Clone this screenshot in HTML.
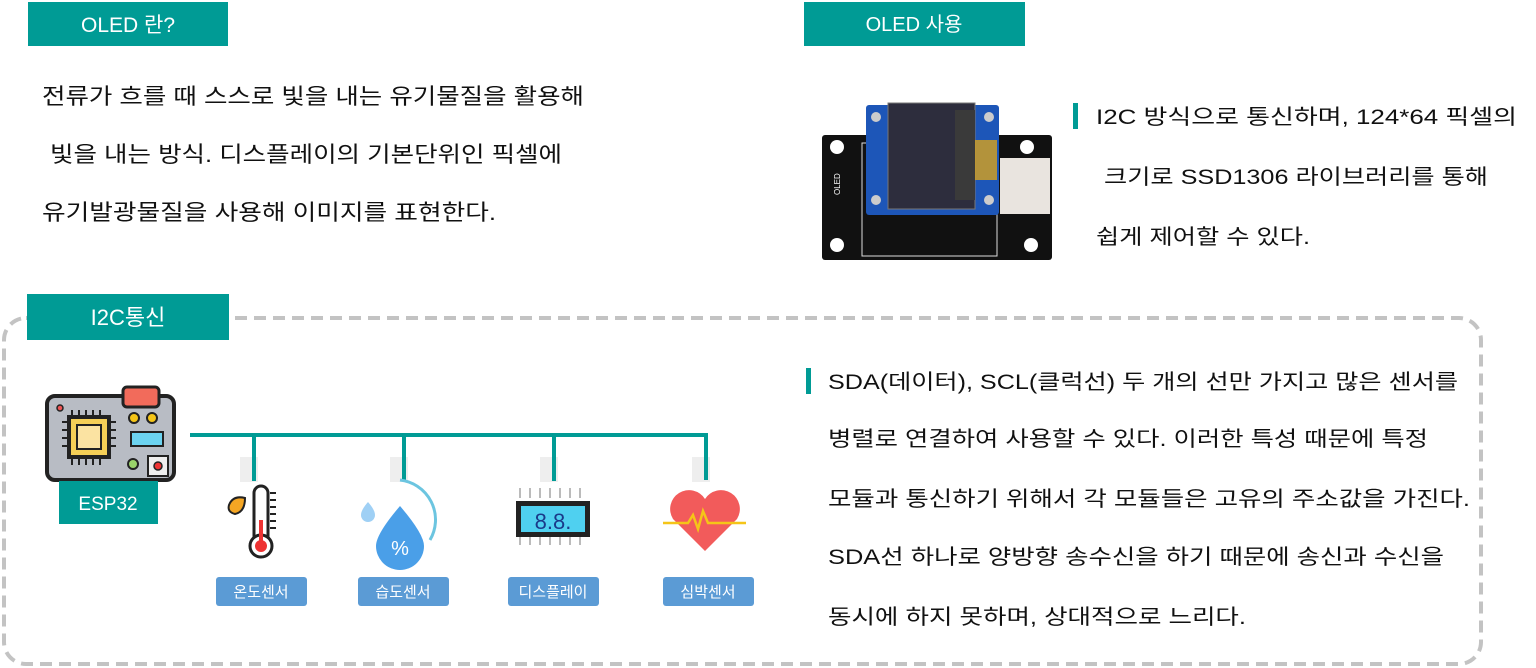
<!DOCTYPE html>
<html><head><meta charset="utf-8"><style>
html,body{margin:0;padding:0;background:#fff;width:1536px;height:668px;overflow:hidden}
svg{display:block}
text{font-family:"Liberation Sans","Noto Sans CJK KR",sans-serif}
</style></head><body>
<svg width="1536" height="668" viewBox="0 0 1536 668" xmlns="http://www.w3.org/2000/svg">
<rect x="4" y="318" width="1477" height="346" rx="22" fill="none" stroke="#c3c3c3" stroke-width="4" stroke-dasharray="12 7"/>
<rect x="28" y="2" width="200" height="44" fill="#009b95"/>
<text x="128" y="32" font-size="21" fill="#fff" text-anchor="middle">OLED 란?</text>
<rect x="804" y="2" width="221" height="44" fill="#009b95"/>
<text x="914" y="31" font-size="20" fill="#fff" text-anchor="middle">OLED 사용</text>
<rect x="27" y="294" width="202" height="46" fill="#009b95"/>
<text x="128" y="325" font-size="22" fill="#fff" text-anchor="middle">I2C통신</text>
<g font-size="22" fill="#111">
<text x="42" y="104" textLength="542" lengthAdjust="spacingAndGlyphs">전류가 흐를 때 스스로 빛을 내는 유기물질을 활용해</text>
<text x="50" y="162" textLength="512" lengthAdjust="spacingAndGlyphs">빛을 내는 방식. 디스플레이의 기본단위인 픽셀에</text>
<text x="42" y="220" textLength="454" lengthAdjust="spacingAndGlyphs">유기발광물질을 사용해 이미지를 표현한다.</text>
</g>
<g>
<rect x="822" y="135" width="230" height="125" rx="3" fill="#111"/>
<circle cx="837" cy="147" r="7" fill="#fff"/><circle cx="1027" cy="147" r="7" fill="#fff"/>
<circle cx="837" cy="245" r="7" fill="#fff"/><circle cx="1031" cy="245" r="7" fill="#fff"/>
<rect x="862" y="143" width="135" height="113" fill="none" stroke="#ddd" stroke-width="1"/>
<rect x="866" y="105" width="133" height="110" rx="3" fill="#1d56b8"/>
<rect x="888" y="103" width="87" height="106" fill="#2d2d3d" stroke="#777"/>
<rect x="955" y="110" width="20" height="90" fill="#3a3a3a"/>
<circle cx="876" cy="117" r="5" fill="#ccc"/><circle cx="989" cy="117" r="5" fill="#ccc"/>
<circle cx="876" cy="200" r="5" fill="#ccc"/><circle cx="989" cy="200" r="5" fill="#ccc"/>
<rect x="975" y="140" width="22" height="40" fill="#d9a21b" opacity="0.8"/>
<rect x="1000" y="158" width="50" height="56" fill="#e9e4df"/>
<text x="840" y="195" font-size="8" fill="#fff" transform="rotate(-90 840 195)">OLED</text>
</g>
<rect x="1073" y="103" width="5" height="26" fill="#009b95"/>
<g font-size="21" fill="#111">
<text x="1096" y="124" textLength="421" lengthAdjust="spacingAndGlyphs">I2C 방식으로 통신하며, 124*64 픽셀의</text>
<text x="1104" y="184" textLength="384" lengthAdjust="spacingAndGlyphs">크기로 SSD1306 라이브러리를 통해</text>
<text x="1096" y="244" textLength="214" lengthAdjust="spacingAndGlyphs">쉽게 제어할 수 있다.</text>
</g>
<rect x="806" y="368" width="5" height="26" fill="#009b95"/>
<g font-size="21" fill="#111">
<text x="828" y="389" textLength="630" lengthAdjust="spacingAndGlyphs">SDA(데이터), SCL(클럭선) 두 개의 선만 가지고 많은 센서를</text>
<text x="828" y="446" textLength="600" lengthAdjust="spacingAndGlyphs">병렬로 연결하여 사용할 수 있다. 이러한 특성 때문에 특정</text>
<text x="828" y="506" textLength="642" lengthAdjust="spacingAndGlyphs">모듈과 통신하기 위해서 각 모듈들은 고유의 주소값을 가진다.</text>
<text x="828" y="564" textLength="616" lengthAdjust="spacingAndGlyphs">SDA선 하나로 양방향 송수신을 하기 때문에 송신과 수신을</text>
<text x="828" y="624" textLength="418" lengthAdjust="spacingAndGlyphs">동시에 하지 못하며, 상대적으로 느리다.</text>
</g>
<g>
<rect x="47" y="396" width="127" height="84" rx="8" fill="#b8bcc4" stroke="#222" stroke-width="4"/>
<rect x="123" y="387" width="36" height="20" rx="4" fill="#f26b5b" stroke="#222" stroke-width="3"/>
<g stroke="#222" stroke-width="2"><path d="M72 410v6M79 410v6M86 410v6M93 410v6M100 410v6M72 459v6M79 459v6M86 459v6M93 459v6M100 459v6M62 422h6M62 430h6M62 438h6M62 446h6M110 422h6M110 430h6M110 438h6M110 446h6"/></g>
<rect x="67" y="415" width="44" height="44" fill="#222"/>
<rect x="71" y="419" width="36" height="36" fill="#f5cf57"/>
<rect x="77" y="425" width="24" height="24" fill="#fbe3a2" stroke="#222" stroke-width="2"/>
<circle cx="134" cy="418" r="5" fill="#f5c518" stroke="#222" stroke-width="2"/>
<circle cx="152" cy="418" r="5" fill="#f5c518" stroke="#222" stroke-width="2"/>
<rect x="131" y="432" width="32" height="14" fill="#6cd3f0" stroke="#222" stroke-width="2"/>
<circle cx="133" cy="464" r="5" fill="#9ad36a" stroke="#222" stroke-width="2"/>
<rect x="148" y="456" width="20" height="20" fill="#eee" stroke="#222" stroke-width="2"/>
<circle cx="158" cy="466" r="4" fill="#e33" stroke="#222" stroke-width="1.5"/>
<circle cx="60" cy="408" r="3" fill="#e55" stroke="#222" stroke-width="1.5"/>
</g>
<rect x="59" y="481" width="99" height="43" fill="#009b95"/>
<text x="108" y="510" font-size="19" fill="#fff" text-anchor="middle">ESP32</text>
<g fill="#eeeeee">
<rect x="240" y="457" width="18" height="25"/><rect x="390" y="457" width="18" height="25"/>
<rect x="540" y="457" width="18" height="25"/><rect x="692" y="457" width="18" height="25"/>
</g>
<g stroke="#009b95" stroke-width="4" fill="none">
<path d="M190 435 H706 V480"/>
<path d="M254 435 V481"/><path d="M404 435 V481"/><path d="M554 435 V481"/>
</g>
<g>
<rect x="254" y="486" width="14" height="60" rx="7" fill="#fff" stroke="#222" stroke-width="3"/>
<circle cx="261" cy="546" r="11" fill="#fff" stroke="#222" stroke-width="3"/>
<circle cx="261" cy="546" r="6" fill="#e33"/>
<rect x="259" y="520" width="4" height="22" fill="#e33"/>
<path d="M229 505 q4 -10 16 -7 q0 14 -10 16 q-8 -2 -6 -9z" fill="#f5a623" stroke="#222" stroke-width="2"/>
<g stroke="#222" stroke-width="2"><path d="M270 493h6M270 500h6M270 507h6M270 514h6M270 521h6M270 528h6"/></g>
</g>
<g>
<path d="M400 480 a40 40 0 0 1 30 60" fill="none" stroke="#6cc5e0" stroke-width="3"/>
<path d="M400 506 q-24 28 -24 40 a24 24 0 0 0 48 0 q0 -12 -24 -40z" fill="#4a9fe8"/>
<path d="M368 502 q-7 8 -7 13 a7 7 0 0 0 14 0 q0 -5 -7 -13z" fill="#9fd0f5"/>
<text x="400" y="555" font-size="20" fill="#fff" text-anchor="middle">%</text>
</g>
<g>
<g stroke="#bbb" stroke-width="2"><path d="M520 488v10M530 488v10M540 488v10M550 488v10M560 488v10M570 488v10M580 488v10M520 535v10M530 535v10M540 535v10M550 535v10M560 535v10M570 535v10M580 535v10"/></g>
<rect x="516" y="501" width="74" height="36" fill="#222"/>
<rect x="521" y="506" width="64" height="26" fill="#4fd0f0"/>
<text x="553" y="529" font-size="22" fill="#1a3a8a" text-anchor="middle" font-family="Liberation Mono">8.8.</text>
</g>
<g>
<path d="M705 551 l-32 -32 a15 15 0 0 1 32 -20 a15 15 0 0 1 32 20 z" fill="#f25b5b"/>
<path d="M663 523 h25 l5 -8 l5 14 l5 -18 l5 12 h38" fill="none" stroke="#f5c518" stroke-width="2.5"/>
</g>
<g fill="#5b9bd5">
<rect x="216" y="577" width="91" height="29" rx="3"/>
<rect x="358" y="577" width="91" height="29" rx="3"/>
<rect x="508" y="577" width="91" height="29" rx="3"/>
<rect x="663" y="577" width="91" height="29" rx="3"/>
</g>
<g font-size="15" fill="#fff" text-anchor="middle">
<text x="261" y="597">온도센서</text>
<text x="403" y="597">습도센서</text>
<text x="553" y="597">디스플레이</text>
<text x="708" y="597">심박센서</text>
</g>
</svg>
</body></html>
